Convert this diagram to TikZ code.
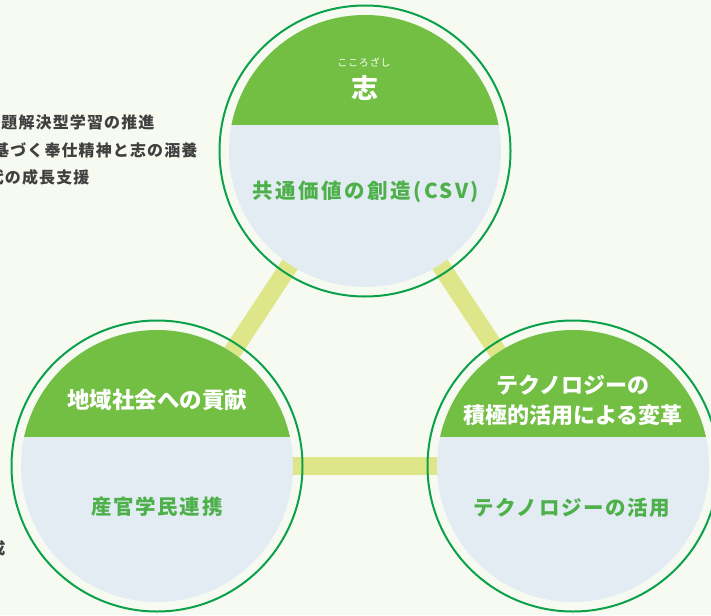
\documentclass[tikz,border=0pt]{standalone}
\usepackage{fontspec}
\setmainfont{Noto Sans CJK JP}
\newfontfamily\spacedjp[LetterSpace=8]{Noto Sans CJK JP}
\newfontfamily\widejp[LetterSpace=12]{Noto Sans CJK JP}
\newfontfamily\sidejp[LetterSpace=7]{Noto Sans CJK JP}
\usetikzlibrary{positioning}

\definecolor{ringgreen}{HTML}{0BA14B}
\definecolor{capgreen}{HTML}{72BF44}
\definecolor{discblue}{HTML}{E4ECF3}
\definecolor{labelgreen}{HTML}{4DB04A}
\definecolor{barlime}{HTML}{DFE68A}
\definecolor{paper}{HTML}{F7FAF1}
\definecolor{inkgray}{HTML}{3F3F3F}

\begin{document}
\begin{tikzpicture}[
            x = 1pt, y = -1pt, % pixel-like units, y going down
            ring/.style = {circle, minimum size=291pt, inner sep=0pt},
            ringline/.style = {draw=ringgreen, line width=2pt},
            bar/.style = {barlime, line width=18pt},
            captitle/.style = {text=white, font=\bfseries\fontsize{22.5}{30}\selectfont, align=center},
            sublabel/.style = {text=labelgreen, font=\spacedjp\bfseries\fontsize{20.5}{26}\selectfont},
            side/.style = {text=inkgray, font=\sidejp\bfseries\fontsize{16}{20}\selectfont, anchor=east}
        ]

        \useasboundingbox (0,0) rectangle (711,615);
        \fill[paper] (0,0) rectangle (711,615);
        \clip (0,0) rectangle (711,615);

        % the three circles
        \node[ring] (kokorozashi) at (365,151) {};
        \node[ring] (chiiki) at (157,466) {};
        \node[ring] (gijutsu) at (573,466) {};

        % links between them
        \draw[bar] (kokorozashi.center) -- (chiiki.center);
        \draw[bar] (chiiki.center) -- (gijutsu.center);
        \draw[bar] (gijutsu.center) -- (kokorozashi.center);

        \foreach \c/\capy in {kokorozashi/26, chiiki/29, gijutsu/29} {
            \fill[discblue] (\c.center) circle (136);
            \begin{scope}
                \clip (\c.center) circle (136);
                \fill[capgreen] ([shift={(-140,-140)}]\c.center) rectangle ([shift={(140,-\capy)}]\c.center);
            \end{scope}
            \draw[ringline] (\c.center) circle (145.5);
        }

        % top circle
        \node[text=white, font=\spacedjp\fontsize{10}{12}\selectfont] (ruby) at (364,63) {こころざし};
        \node[text=white, font=\bfseries\fontsize{27}{30}\selectfont] (kokorozashi-title) at (365,88) {志};
        \node[sublabel, font=\widejp\bfseries\fontsize{20.5}{24}\selectfont] (kokorozashi-sub) at (366,192) {共通価値の創造(CSV)};

        % bottom left circle
        \node[captitle] (chiiki-title) at (157,400) {地域社会への貢献};
        \node[sublabel] (chiiki-sub) at (157,507) {産官学民連携};

        % bottom right circle
        \node[captitle, font=\bfseries\fontsize{22}{30}\selectfont] (gijutsu-title) at (573,400) {テクノロジーの\\積極的活用による変革};
        \node[sublabel] (gijutsu-sub) at (572,508) {テクノロジーの活用};

        % text cut off at the left edge
        \node[side] (line1) at (158,122) {課題解決型学習の推進};
        \node[side] (line2) at (201,150) {建学の精神に基づく奉仕精神と志の涵養};
        \node[side] (line3) at (93,177) {次世代の成長支援};
        \node[side] (line4) at (9,548) {人材育成};
    \end{tikzpicture}
\end{document}
